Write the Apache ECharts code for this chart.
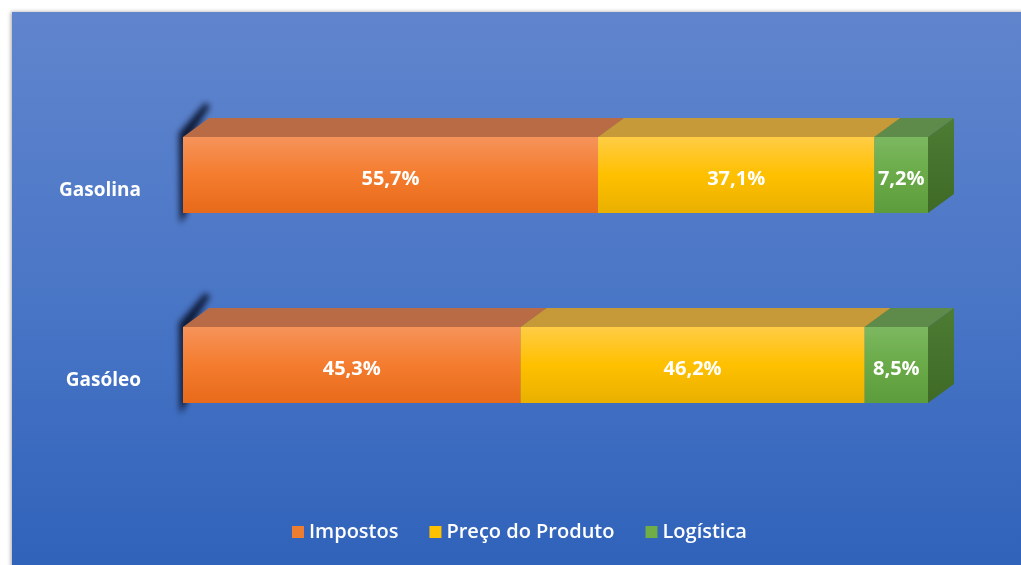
<!DOCTYPE html>
<html><head><meta charset="utf-8">
<script src="https://cdn.jsdelivr.net/npm/echarts@6/dist/echarts.min.js"></script>
<style>html,body{margin:0;padding:0;background:#fff}#c{width:1021px;height:565px}</style>
</head><body><div id="c"></div>
<script>
const categories = ['Gasolina', 'Gasóleo'];
const seriesNames = ['Impostos', 'Preço do Produto', 'Logística'];
const impostos = [55.7, 45.3];
const preco = [37.1, 46.2];
const logistica = [7.2, 8.5];

const values = [impostos, preco, logistica];
const palettes = [
  {front: ['#f6935a', '#f47c2e', '#e8691a'], top: '#b96b45', side: ['#b5561a', '#a04a14'], legend: '#ed7d31'},
  {front: ['#ffcc45', '#ffc000', '#e9b000'], top: '#c69a38', side: ['#bf9000', '#a67d00'], legend: '#ffc000'},
  {front: ['#7cb860', '#6aaa48', '#5c9c3c'], top: '#5e8b4a', side: ['#4d7c34', '#3e6a26'], legend: '#70ad47'}
];
const DX = 26, DY = 19;
const OFF = 3000;

function fmt(v) { return v.toFixed(1).replace('.', ',') + '%'; }

const series = seriesNames.map(function (name, si) {
  const data = categories.map(function (c, ci) {
    let start = 0;
    for (let k = 0; k < si; k++) start += values[k][ci];
    return [start, start + values[si][ci], ci, values[si][ci]];
  });
  const p = palettes[si];
  return {
    name: name,
    type: 'custom',
    z: 2 + si,
    itemStyle: {color: p.legend},
    encode: {x: [0, 1], y: 2},
    data: data,
    renderItem: function (params, api) {
      const s = api.coord([api.value(0), api.value(2)]);
      const e = api.coord([api.value(1), api.value(2)]);
      const h = api.size([0, 1])[1] * 0.4;
      const x0 = s[0], x1 = e[0], yc = s[1];
      const yt = yc - h / 2, yb = yc + h / 2;
      const children = [];
      if (api.value(0) === 0) {
        const pts = [[x0 - 4, yt - 4], [x0 + DX - 4, yt - DY - 15], [x0 + DX + 1, yt - DY - 12], [x0 + 4, yt + 6], [x0 + 4, yb], [x0 - 3, yb + 11]];
        children.push({
          type: 'polygon',
          shape: {points: pts.map(function (q) { return [q[0] - OFF, q[1]]; })},
          style: {fill: '#0d1a38', shadowBlur: 6, shadowColor: 'rgba(12,24,52,1)', shadowOffsetX: OFF},
          z2: -1
        });
      }
      children.push({
        type: 'polygon',
        shape: {points: [[x0, yt], [x0 + DX, yt - DY], [x1 + DX, yt - DY], [x1, yt]]},
        style: {fill: p.top}
      });
      children.push({
        type: 'polygon',
        shape: {points: [[x1, yt], [x1 + DX, yt - DY], [x1 + DX, yb - DY], [x1, yb]]},
        style: {fill: {type: 'linear', x: 0, y: 0, x2: 0, y2: 1, colorStops: [{offset: 0, color: p.side[0]}, {offset: 1, color: p.side[1]}]}}
      });
      children.push({
        type: 'rect',
        shape: {x: x0, y: yt, width: x1 - x0, height: h},
        style: {fill: {type: 'linear', x: 0, y: 0, x2: 0, y2: 1, colorStops: [{offset: 0, color: p.front[0]}, {offset: 0.5, color: p.front[1]}, {offset: 1, color: p.front[2]}]}}
      });
      children.push({
        type: 'text',
        style: {text: fmt(api.value(3)), x: (x0 + x1) / 2, y: yc + 4, align: 'center', verticalAlign: 'middle',
          fill: '#ffffff', font: 'bold 20px "Open Sans", sans-serif'}
      });
      return {type: 'group', children: children};
    }
  };
});

const chart = echarts.init(document.getElementById('c'));
chart.setOption({
  backgroundColor: '#ffffff',
  animation: false,
  graphic: [{
    type: 'rect', z: -10,
    shape: {x: 12, y: 12, width: 1015, height: 560},
    style: {fill: {type: 'linear', x: 0, y: 0, x2: 0, y2: 1, colorStops: [{offset: 0, color: '#6085cd'}, {offset: 0.5, color: '#4a76c6'}, {offset: 1, color: '#2f62ba'}]},
      shadowBlur: 4, shadowColor: 'rgba(0,0,0,0.35)', shadowOffsetX: -1}
  }],
  grid: {left: 183, right: 93, top: 80, bottom: 105},
  xAxis: {type: 'value', min: 0, max: 100, show: false},
  yAxis: {
    type: 'category', data: categories, inverse: true,
    axisLine: {show: false}, axisTick: {show: false},
    axisLabel: {color: '#ffffff', fontSize: 19, fontWeight: 'bold', fontFamily: '"Open Sans", sans-serif', margin: 42,
      verticalAlign: 'top', lineHeight: 32}
  },
  legend: {
    data: seriesNames, left: 287, top: 517, icon: 'rect', itemWidth: 12, itemHeight: 12, itemGap: 31,
    textStyle: {color: '#ffffff', fontSize: 20, fontWeight: 600, fontFamily: '"Open Sans", sans-serif'}
  },
  series: series
});
</script></body></html>
